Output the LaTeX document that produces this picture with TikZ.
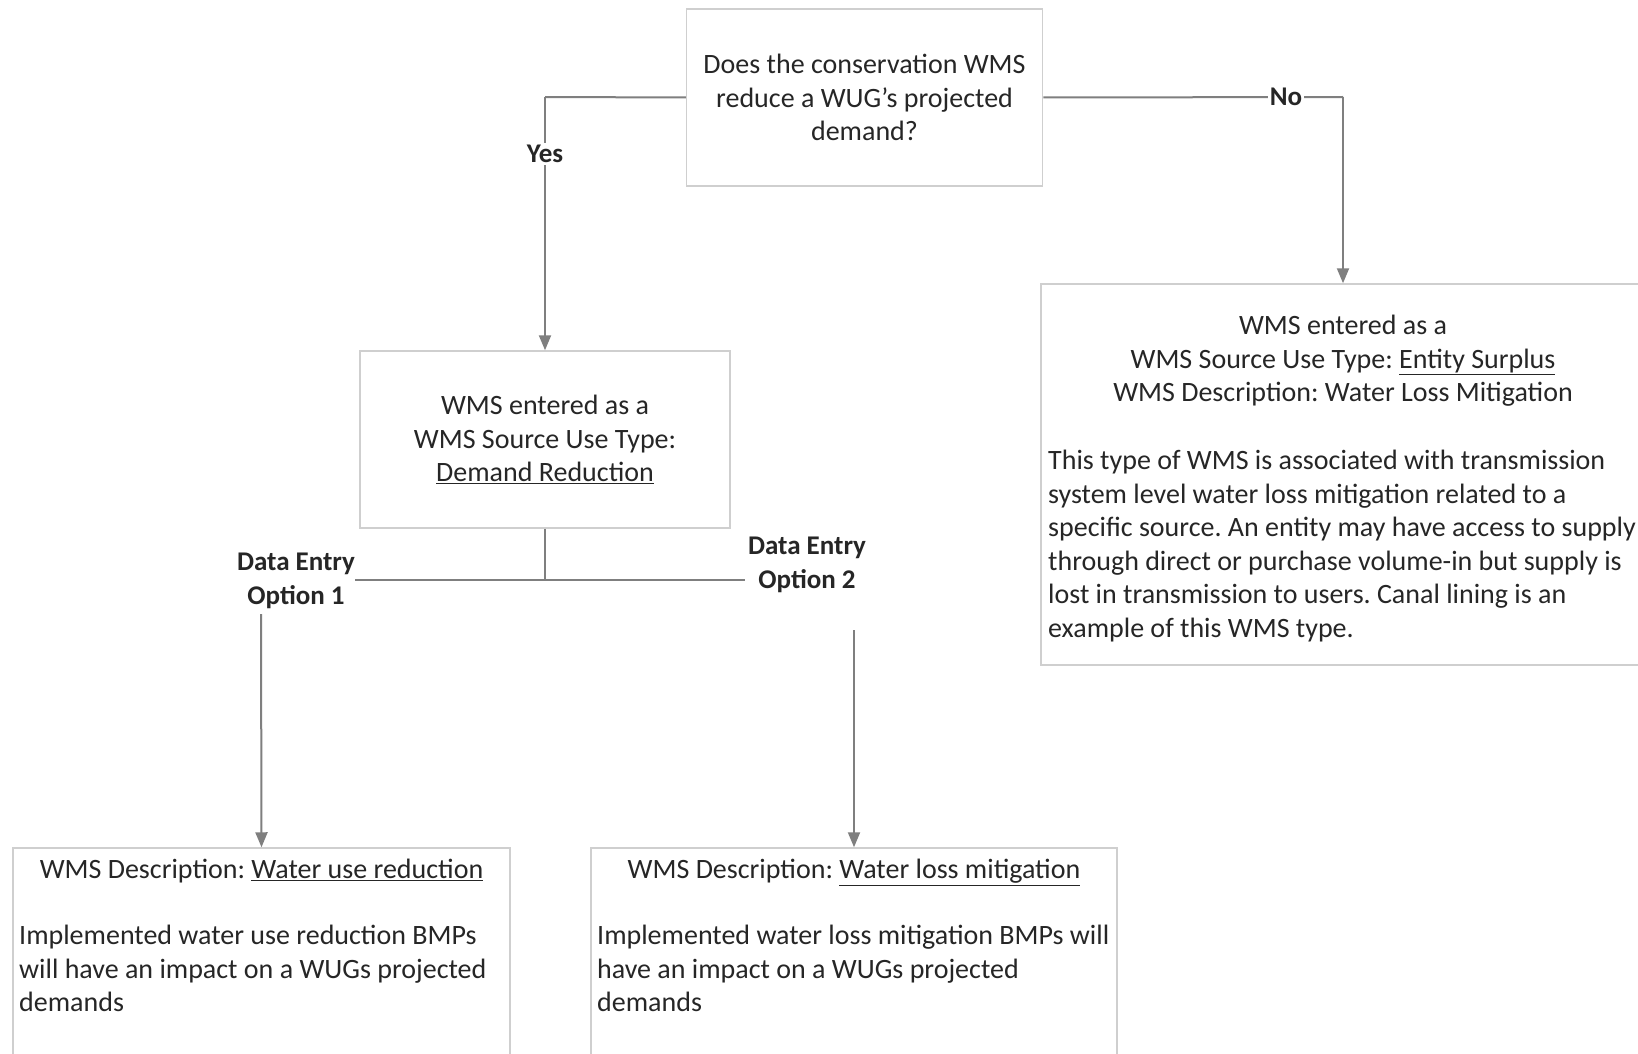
\documentclass[tikz,border=0pt]{standalone}
\usepackage{fontspec}
\setmainfont{Carlito}
\usetikzlibrary{arrows.meta}
\definecolor{boxline}{HTML}{CFCFCF}
\definecolor{wire}{HTML}{7F7F7F}
\definecolor{ink}{HTML}{262626}
\frenchspacing
\tikzset{
  box/.style={draw=boxline, line width=1.5pt, rectangle, inner sep=0pt},
  txt/.style={font=\fontsize{28}{33.5}\selectfont, text=ink, inner sep=0pt},
  lbl/.style={font=\bfseries\fontsize{27}{33.5}\selectfont, text=ink, fill=white, inner sep=2pt, align=center},
  wireline/.style={draw=wire, line width=2pt},
  arrowline/.style={wireline, -{Triangle[length=15pt,width=12pt]}},
}
\begin{document}
\begin{tikzpicture}[x=1pt,y=-1pt]
\useasboundingbox (0,0) rectangle (1638,1054);
\clip (0,0) rectangle (1638,1054);
\fill[white] (0,0) rectangle (1638,1054);

% question box
\node[box, minimum width=356pt, minimum height=177pt] (q) at (864.5,97.5) {};
\node[txt, align=center] (qt) at (864.5,97.5)
  {Does the conservation WMS\\reduce a WUG’s projected\\demand?};

% demand reduction box
\node[box, minimum width=370pt, minimum height=177pt] (dr) at (545,439.5) {};
\node[txt, align=center] (drt) at (545,439.5)
  {WMS entered as a\\WMS Source Use Type:\\\underline{Demand Reduction}};

% entity surplus box
\node[box, minimum width=604pt, minimum height=381pt] (es) at (1343,474.5) {};
\node[txt, align=center, anchor=north] (est) at (1343,315)
  {WMS entered as a\\WMS Source Use Type: \underline{Entity Surplus}\\WMS Description: Water Loss Mitigation};
\node[txt, align=left, anchor=north west] (esp) at (1048,450)
  {This type of WMS is associated with transmission\\
   system level water loss mitigation related to a\\
   specific source. An entity may have access to supply\\
   through direct or purchase volume-in but supply is\\
   lost in transmission to users. Canal lining is an\\
   example of this WMS type.};

% water use reduction box
\node[box, minimum width=497pt, minimum height=230pt] (wu) at (261.5,963) {};
\node[txt, anchor=north] (wut) at (261.5,859)
  {WMS Description: \underline{Water use reduction}};
\node[txt, align=left, anchor=north west] (wup) at (19,925)
  {Implemented water use reduction BMPs\\
   will have an impact on a WUGs projected\\
   demands};

% water loss mitigation box
\node[box, minimum width=526pt, minimum height=230pt] (wl) at (854,963) {};
\node[txt, anchor=north] (wlt) at (854,859)
  {WMS Description: \underline{Water loss mitigation}};
\node[txt, align=left, anchor=north west] (wlp) at (597,925)
  {Implemented water loss mitigation BMPs will\\
   have an impact on a WUGs projected\\
   demands};

% yes / no branches
\coordinate (yesturn) at (545,97);
\coordinate (noturn) at (1343,97);
\draw[wireline] (q.west) -- (yesturn);
\draw[arrowline] (yesturn) -- (dr.north);
\node[lbl] (yes) at (545,154) {Yes};
\draw[wireline] (q.east) -- (noturn);
\draw[arrowline] (noturn) -- (es.north);
\node[lbl] (no) at (1286,97) {No};

% data entry split
\node[lbl, fill=none, inner sep=0pt] (opt1) at (296,581) {Data Entry\\Option 1};
\node[lbl, fill=none, inner sep=0pt] (opt2) at (807,565) {Data Entry\\Option 2};
\coordinate (split) at (545,580);
\coordinate (opt2in) at (745,580);
\coordinate (opt1out) at (261,614);
\coordinate (opt2out) at (854,630);
\draw[wireline] (dr.south) -- (split);
\draw[wireline] (opt1.east |- split) -- (split) -- (opt2in);
\draw[arrowline] (opt1out) -- (wu.north);
\draw[arrowline] (opt2out) -- (wl.north);
\end{tikzpicture}
\end{document}
